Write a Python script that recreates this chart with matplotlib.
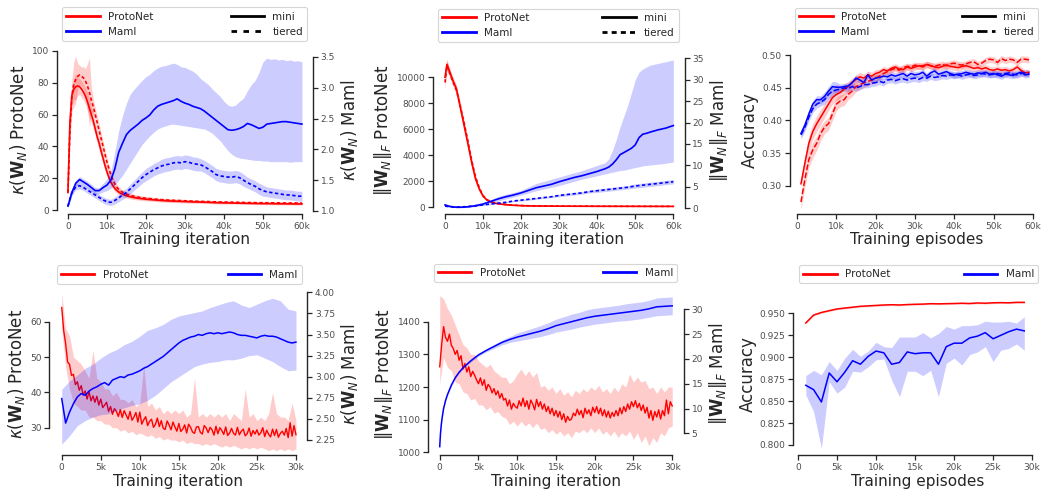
import numpy as np
import matplotlib
matplotlib.use('Agg')
import matplotlib.pyplot as plt
from matplotlib.lines import Line2D

plt.rcParams['font.family'] = 'DejaVu Sans'
plt.rcParams['mathtext.fontset'] = 'dejavusans'

RED = '#ff0000'
BLUE = '#0000ff'
TXT = '0.15'

# %% Top-left: condition number, 60k iterations (x in thousands)
tl_proto_x = [0, 0.5, 1, 1.5, 2, 2.5, 3, 3.5, 4, 4.5, 5, 5.5, 6, 6.5, 7, 7.5, 8, 8.5, 9, 9.5,
              10, 10.5, 11, 11.5, 12, 12.5, 13, 13.5, 14, 14.5, 15, 16, 17, 18, 19, 20,
              22, 24, 26, 28, 30, 32, 34, 36, 38, 40, 42, 44, 46, 48, 50, 52, 54, 56, 58, 60]
tl_proto_mini = [11, 55, 72, 76, 77.5, 78, 77.5, 76, 74, 71.5, 68, 64, 60, 56, 51, 46, 42, 37, 32.5, 28,
                 24, 20.5, 17.5, 15.5, 13.6, 12.3, 11.3, 10.5, 9.9, 9.4, 9.0, 8.3, 7.8, 7.4, 7.1, 6.8,
                 6.4, 6.0, 5.7, 5.5, 5.3, 5.1, 5.0, 4.8, 4.6, 4.5, 4.4, 4.3, 4.2, 4.1, 4.0, 4.0, 3.9, 3.9, 3.8, 3.8]
tl_proto_mini_sd = [1, 6, 6, 7, 8, 6, 5, 5, 5, 5, 6, 6, 5, 5, 4, 4, 4, 3.5, 3.5, 3,
                    3, 2.5, 2.5, 2, 2, 2, 1.8, 1.8, 1.6, 1.6, 1.5, 1.4, 1.3, 1.2, 1.2, 1.1,
                    1.0, 1.0, 1.0, 0.9, 0.9, 0.9, 0.8, 0.8, 0.8, 0.8, 0.7, 0.7, 0.7, 0.7, 0.7, 0.7, 0.7, 0.7, 0.7, 0.7]
tl_proto_tiered = [11, 50, 72, 79, 82, 84, 85, 84, 83, 81, 78, 74, 69, 65, 60, 55, 50, 45, 40, 35,
                   30, 26, 22, 19, 16.5, 14.5, 13, 12, 11.2, 10.6, 10, 9.2, 8.6, 8.1, 7.7, 7.4,
                   6.9, 6.5, 6.2, 6.0, 5.8, 5.6, 5.4, 5.3, 5.1, 5.0, 4.9, 4.8, 4.7, 4.6, 4.6, 4.5, 4.5, 4.4, 4.4, 4.4]
tl_proto_tiered_sd = [1, 8, 10, 14, 15, 8, 6, 6, 7, 8, 14, 22, 8, 5, 4, 4, 4, 3.5, 3.5, 3,
                      3, 2.5, 2.5, 2, 2, 2, 1.8, 1.8, 1.6, 1.6, 1.5, 1.4, 1.3, 1.2, 1.2, 1.1,
                      1.0, 1.0, 1.0, 0.9, 0.9, 0.9, 0.8, 0.8, 0.8, 0.8, 0.7, 0.7, 0.7, 0.7, 0.7, 0.7, 0.7, 0.7, 0.7, 0.7]

tl_maml_x = list(range(0, 61))
tl_maml_mini = [1.08, 1.30, 1.45, 1.51, 1.47, 1.43, 1.38, 1.33, 1.33, 1.38,
                1.42, 1.50, 1.68, 1.95, 2.10, 2.24, 2.31, 2.36, 2.41, 2.47,
                2.51, 2.56, 2.64, 2.70, 2.73, 2.75, 2.77, 2.79, 2.82, 2.78,
                2.75, 2.73, 2.70, 2.68, 2.66, 2.62, 2.57, 2.52, 2.47, 2.42,
                2.37, 2.32, 2.31, 2.32, 2.34, 2.37, 2.42, 2.40, 2.37, 2.34,
                2.36, 2.41, 2.42, 2.43, 2.44, 2.45, 2.45, 2.44, 2.43, 2.42, 2.41]
tl_maml_mini_hi = [1.12, 1.35, 1.50, 1.56, 1.52, 1.48, 1.43, 1.38, 1.38, 1.45,
                   1.52, 1.65, 1.95, 2.30, 2.55, 2.75, 2.90, 2.98, 3.05, 3.12,
                   3.18, 3.22, 3.28, 3.32, 3.35, 3.36, 3.38, 3.40, 3.38, 3.34,
                   3.33, 3.30, 3.27, 3.22, 3.15, 3.10, 3.05, 2.98, 2.92, 2.86,
                   2.78, 2.72, 2.70, 2.72, 2.78, 2.83, 2.95, 3.05, 3.12, 3.25,
                   3.42, 3.48, 3.46, 3.47, 3.45, 3.46, 3.44, 3.45, 3.43, 3.44, 3.42]
tl_maml_mini_lo = [1.05, 1.25, 1.40, 1.46, 1.42, 1.38, 1.33, 1.28, 1.28, 1.31,
                   1.33, 1.37, 1.42, 1.50, 1.58, 1.68, 1.78, 1.88, 1.98, 2.08,
                   2.15, 2.22, 2.28, 2.33, 2.36, 2.38, 2.40, 2.41, 2.40, 2.39,
                   2.38, 2.37, 2.36, 2.35, 2.34, 2.33, 2.30, 2.26, 2.20, 2.14,
                   2.06, 1.98, 1.92, 1.88, 1.86, 1.85, 1.84, 1.83, 1.82, 1.82,
                   1.81, 1.81, 1.80, 1.80, 1.80, 1.80, 1.80, 1.79, 1.80, 1.80, 1.80]
tl_maml_tiered = [1.08, 1.30, 1.39, 1.41, 1.38, 1.34, 1.30, 1.26, 1.22, 1.18,
                  1.15, 1.14, 1.17, 1.21, 1.26, 1.30, 1.36, 1.42, 1.48, 1.54,
                  1.59, 1.63, 1.67, 1.70, 1.73, 1.75, 1.76, 1.78, 1.79, 1.78,
                  1.80, 1.79, 1.77, 1.76, 1.75, 1.72, 1.68, 1.64, 1.59, 1.57,
                  1.56, 1.55, 1.55, 1.56, 1.54, 1.50, 1.46, 1.43, 1.40, 1.36,
                  1.33, 1.31, 1.30, 1.29, 1.28, 1.27, 1.26, 1.26, 1.25, 1.24, 1.24]
tl_maml_tiered_sd = [0.02, 0.04, 0.05, 0.05, 0.05, 0.05, 0.05, 0.05, 0.05, 0.05,
                     0.05, 0.05, 0.06, 0.06, 0.07, 0.07, 0.08, 0.08, 0.09, 0.09,
                     0.10, 0.10, 0.10, 0.10, 0.11, 0.11, 0.11, 0.11, 0.11, 0.11,
                     0.11, 0.11, 0.11, 0.11, 0.10, 0.10, 0.10, 0.10, 0.10, 0.10,
                     0.10, 0.10, 0.10, 0.10, 0.10, 0.10, 0.09, 0.09, 0.09, 0.09,
                     0.09, 0.08, 0.08, 0.08, 0.08, 0.08, 0.08, 0.08, 0.08, 0.08, 0.08]

# %% Top-middle: Frobenius norm, 60k iterations
tm_proto_x = [0, 0.5, 1, 2, 3, 4, 5, 6, 7, 8, 9, 10, 11, 12, 13, 14, 15, 16, 17, 18, 19, 20,
              22, 24, 26, 28, 30, 32, 34, 36, 38, 40, 42, 44, 46, 48, 50, 52, 54, 56, 58, 60]
tm_proto_mini = [10000, 11000, 10600, 9800, 9100, 7700, 6300, 4900, 3450, 2200, 1400, 850,
                 560, 420, 330, 270, 230, 200, 175, 155, 140, 125,
                 110, 100, 95, 90, 88, 85, 83, 81, 80, 78, 77, 76, 75, 74, 73, 72, 71, 70, 70, 69]
tm_proto_tiered = [9600, 10900, 10500, 9700, 9000, 7800, 6500, 5100, 3600, 2350, 1500, 900,
                   590, 440, 350, 290, 250, 215, 185, 165, 150, 135,
                   118, 108, 100, 95, 92, 89, 86, 84, 82, 80, 79, 78, 77, 76, 75, 74, 73, 72, 72, 71]
tm_proto_sd = [600, 400, 300, 300, 300, 280, 260, 240, 200, 160, 120, 90,
               60, 45, 35, 30, 25, 22, 20, 18, 16, 15,
               14, 13, 12, 12, 11, 11, 10, 10, 10, 10, 10, 10, 10, 10, 10, 10, 10, 10, 10, 10]

tm_maml_x = [0, 1, 2, 3, 4, 6, 8, 10, 12, 14, 16, 18, 20, 22, 24, 26, 28, 30, 32, 34, 36, 38, 40, 42,
             43, 44, 45, 46, 47, 48, 49, 50, 51, 52, 53, 54, 56, 58, 60]
tm_maml_mini = [0.8, 0.5, 0.35, 0.25, 0.25, 0.35, 0.6, 1.0, 1.6, 2.2, 2.7, 3.1, 3.6, 4.2, 4.8, 5.2,
                5.6, 6.2, 6.7, 7.2, 7.6, 8.1, 8.6, 9.2,
                9.6, 10.3, 11.3, 12.5, 13.0, 13.5, 14.0, 14.8, 16.5, 17.3, 17.5, 17.8, 18.3, 18.7, 19.3]
tm_maml_mini_hi = [1.0, 0.7, 0.5, 0.4, 0.4, 0.5, 0.8, 1.3, 2.0, 2.8, 3.3, 3.7, 4.2, 5.0, 5.8, 6.3,
                   6.8, 7.3, 7.8, 8.3, 8.8, 9.4, 10.0, 10.6,
                   11.5, 13.5, 16.0, 19.0, 21.5, 24.0, 27.0, 30.0, 31.8, 32.5, 33.0, 33.4, 33.8, 34.2, 34.6]
tm_maml_mini_lo = [0.6, 0.3, 0.2, 0.1, 0.1, 0.2, 0.4, 0.8, 1.3, 1.7, 2.2, 2.6, 3.1, 3.6, 4.1, 4.5,
                   4.9, 5.3, 5.8, 6.3, 6.8, 7.2, 7.6, 8.0,
                   8.2, 8.4, 8.6, 8.8, 8.9, 9.1, 9.3, 9.5, 9.7, 9.9, 10.0, 10.1, 10.3, 10.5, 10.8]
tm_maml_tiered_x = list(range(0, 61, 2))
tm_maml_tiered = [0.5, 0.3, 0.3, 0.4, 0.6, 0.8, 1.0, 1.2, 1.4, 1.7, 1.9, 2.1, 2.3, 2.5, 2.7, 3.0,
                  3.2, 3.4, 3.6, 3.9, 4.1, 4.3, 4.5, 4.7, 4.9, 5.2, 5.4, 5.6, 5.8, 6.0, 6.2]
tm_maml_tiered_sd = [0.1, 0.1, 0.1, 0.1, 0.1, 0.15, 0.15, 0.15, 0.15, 0.15, 0.2, 0.2, 0.2, 0.2, 0.2,
                     0.3, 0.3, 0.3, 0.3, 0.3, 0.4, 0.4, 0.4, 0.4, 0.4, 0.5, 0.5, 0.5, 0.5, 0.5, 0.5]

# %% Top-right: accuracy, 60k episodes
tr_x = list(range(1, 60))
tr_proto_mini = [.303, .335, .365, .383, .395, .405, .415, .425, .435, .440,
                 .443, .448, .452, .458, .463, .467, .465, .470, .468, .472,
                 .474, .478, .476, .480, .482, .479, .478, .482, .480, .482,
                 .484, .482, .486, .484, .482, .481, .483, .485, .483, .482,
                 .481, .483, .484, .482, .480, .481, .479, .481, .478, .477,
                 .479, .477, .478, .476, .478, .482, .477, .473, .474]
tr_proto_tiered = [.275, .310, .340, .355, .365, .380, .390, .395, .410, .425,
                   .430, .432, .440, .445, .452, .455, .458, .460, .462, .465,
                   .468, .472, .475, .478, .480, .477, .481, .483, .482, .485,
                   .483, .484, .486, .484, .483, .485, .486, .484, .487, .488,
                   .486, .485, .487, .489, .490, .486, .488, .492, .494, .493,
                   .489, .495, .492, .494, .493, .489, .494, .494, .493]
tr_maml_mini = [.380, .393, .410, .425, .432, .432, .437, .445, .452, .451,
                .451, .452, .453, .458, .465, .462, .458, .470, .462, .465,
                .466, .468, .467, .470, .468, .470, .472, .468, .472, .470,
                .471, .474, .468, .473, .476, .471, .473, .475, .472, .470,
                .471, .472, .474, .472, .471, .473, .472, .474, .471, .472,
                .470, .468, .471, .470, .469, .472, .474, .470, .471]
tr_maml_tiered = [.378, .390, .405, .418, .425, .428, .432, .440, .445, .447,
                  .448, .450, .449, .452, .450, .452, .455, .455, .457, .458,
                  .460, .458, .462, .463, .461, .463, .464, .462, .464, .465,
                  .463, .466, .465, .468, .466, .467, .469, .468, .470, .469,
                  .470, .468, .470, .471, .469, .470, .472, .471, .470, .471,
                  .472, .471, .472, .473, .471, .470, .472, .473, .472]
tr_proto_mini_sd = [0.006, 0.010, 0.012, 0.012, 0.012, 0.012, 0.011, 0.010, 0.010, 0.009,
                    0.008, 0.008, 0.008, 0.007, 0.007, 0.007, 0.006, 0.006, 0.006, 0.006] + [0.005] * 39
tr_proto_tiered_sd = [0.012, 0.012, 0.012, 0.012, 0.011, 0.011, 0.010, 0.010, 0.010, 0.010,
                      0.009, 0.009, 0.008, 0.008, 0.008, 0.007, 0.007, 0.007, 0.006, 0.006] + [0.005] * 39
tr_maml_sd = [0.006, 0.006, 0.006, 0.006, 0.006, 0.006, 0.007, 0.007, 0.008, 0.008] + [0.005] * 49

# %% Bottom-left: condition number, 30k iterations
bl_proto_x = np.arange(0, 30.01, 0.25)
bl_proto = [64.0, 57.5, 53.8, 48.6, 47.9, 44.8, 45.1, 42.2, 43.0, 40.6,
            41.9, 39.2, 40.4, 38.1, 40.2, 37.6, 39.0, 37.2, 38.9, 36.4,
            38.1, 35.7, 36.4, 37.2, 34.6, 36.0, 33.8, 35.4, 34.6, 33.2,
            35.1, 32.9, 34.8, 33.6, 32.4, 34.6, 32.1, 33.0, 34.3, 31.6,
            34.4, 31.0, 32.2, 33.1, 30.6, 31.8, 32.4, 30.1, 30.9, 32.7,
            30.3, 32.0, 29.8, 29.5, 31.9, 30.8, 29.4, 31.6, 30.2, 29.0,
            31.2, 28.9, 29.6, 30.8, 28.5, 31.0, 30.1, 28.8, 28.4, 30.2,
            30.3, 28.7, 28.2, 30.6, 29.9, 28.6, 30.1, 29.4, 27.9, 30.4,
            28.3, 30.0, 29.2, 28.1, 30.2, 27.8, 28.5, 29.8, 28.4, 27.9,
            30.1, 28.0, 29.0, 29.6, 27.7, 28.3, 29.9, 27.6, 29.2, 28.2,
            29.4, 27.9, 28.6, 30.0, 27.5, 29.3, 28.1, 27.4, 29.6, 27.8,
            29.5, 27.3, 28.4, 29.0, 27.9, 29.8, 27.2, 31.4, 27.6, 30.6,
            28.0]
bl_band_x = np.arange(0, 30.01, 0.5)
bl_proto_hi = [68, 58, 56, 50, 49, 48, 46, 44, 52, 44,
               43, 41, 41, 39, 40, 38, 38, 37, 38, 36,
               37, 48, 36, 37, 35, 36, 34, 35, 34, 35,
               34, 35, 33, 34, 44, 33, 34, 33, 34, 33,
               34, 33, 34, 32, 34, 33, 32, 41, 33, 34,
               32, 33, 32, 34, 40, 34, 33, 33, 32, 37, 32]
bl_proto_lo = [58, 47, 41, 37, 36, 35, 35, 33, 33, 32,
               32, 31, 31, 30, 30, 29, 29.5, 28.5, 29, 28,
               28.5, 28, 27.5, 28, 27, 27.5, 26.5, 27, 26.5, 26.5,
               26, 26.5, 25.5, 26, 25.5, 25.5, 25, 25.5, 25, 25.5,
               25, 24.5, 25, 24.5, 25, 24.5, 24, 24.5, 24, 24.5,
               24, 24.5, 24, 23.5, 24, 23.5, 24, 23.5, 24, 23.5, 24]
bl_maml = [2.74, 2.45, 2.58, 2.68, 2.76, 2.80, 2.78, 2.83, 2.86, 2.88,
           2.91, 2.93, 2.90, 2.96, 2.98, 3.00, 2.99, 3.02, 3.03, 3.05,
           3.07, 3.10, 3.12, 3.15, 3.18, 3.21, 3.24, 3.28, 3.32, 3.36,
           3.40, 3.43, 3.45, 3.47, 3.48, 3.50, 3.49, 3.51, 3.52, 3.51,
           3.52, 3.51, 3.52, 3.53, 3.52, 3.50, 3.49, 3.49, 3.48, 3.47,
           3.46, 3.48, 3.49, 3.48, 3.48, 3.47, 3.45, 3.43, 3.41, 3.40, 3.41]
bl_maml_band_x = list(range(0, 31))
bl_maml_hi = [2.85, 2.95, 3.02, 3.10, 3.15, 3.22, 3.28, 3.32, 3.38, 3.42,
              3.48, 3.55, 3.58, 3.62, 3.68, 3.72, 3.74, 3.76, 3.78, 3.82,
              3.85, 3.88, 3.90, 3.85, 3.82, 3.86, 3.90, 3.93, 3.90, 3.80, 3.78]
bl_maml_lo = [2.20, 2.30, 2.42, 2.48, 2.52, 2.55, 2.56, 2.60, 2.63, 2.66,
              2.68, 2.72, 2.78, 2.86, 2.94, 3.00, 3.06, 3.12, 3.15, 3.17,
              3.18, 3.20, 3.20, 3.22, 3.25, 3.26, 3.22, 3.18, 3.12, 3.07, 3.08]

# %% Bottom-middle: Frobenius norm, 30k iterations
bm_proto_x = np.arange(0, 30.01, 0.25)
bm_proto = [1262, 1330, 1385, 1352, 1340, 1362, 1328, 1318, 1300, 1312,
            1282, 1296, 1255, 1272, 1246, 1262, 1232, 1248, 1236, 1222,
            1210, 1228, 1205, 1222, 1190, 1208, 1200, 1182, 1195, 1176,
            1188, 1166, 1180, 1160, 1165, 1142, 1160, 1132, 1150, 1140,
            1135, 1158, 1142, 1166, 1140, 1158, 1132, 1160, 1148, 1130,
            1162, 1140, 1155, 1132, 1148, 1125, 1140, 1118, 1135, 1112,
            1128, 1108, 1125, 1100, 1118, 1092, 1110, 1098, 1102, 1120,
            1112, 1132, 1115, 1128, 1106, 1135, 1118, 1130, 1112, 1138,
            1122, 1140, 1118, 1135, 1112, 1130, 1108, 1126, 1105, 1122,
            1110, 1128, 1112, 1136, 1118, 1140, 1125, 1148, 1132, 1155,
            1140, 1158, 1136, 1150, 1128, 1145, 1120, 1138, 1105, 1128,
            1098, 1125, 1108, 1130, 1102, 1128, 1112, 1160, 1118, 1155,
            1142]
bm_band_x = np.arange(0, 30.01, 0.5)
bm_proto_hi = [1480, 1470, 1440, 1420, 1390, 1360, 1330, 1320, 1300, 1300,
               1280, 1270, 1260, 1270, 1250, 1240, 1230, 1230, 1210, 1220,
               1240, 1255, 1235, 1250, 1230, 1245, 1200, 1205, 1190, 1200,
               1180, 1195, 1175, 1185, 1170, 1190, 1180, 1195, 1185, 1200,
               1190, 1205, 1185, 1195, 1180, 1200, 1185, 1210, 1200, 1240,
               1215, 1230, 1215, 1220, 1195, 1200, 1180, 1200, 1185, 1200, 1200]
bm_proto_lo = [1210, 1290, 1260, 1250, 1215, 1210, 1185, 1180, 1160, 1165,
               1145, 1145, 1130, 1140, 1120, 1125, 1110, 1105, 1085, 1095,
               1080, 1095, 1080, 1090, 1075, 1090, 1070, 1075, 1060, 1070,
               1055, 1065, 1050, 1060, 1045, 1065, 1060, 1070, 1060, 1075,
               1060, 1075, 1055, 1065, 1050, 1065, 1045, 1060, 1050, 1065,
               1040, 1060, 1030, 1050, 1020, 1045, 1030, 1060, 1050, 1075, 1080]
bm_maml_x = [0, 0.1, 0.2, 0.3, 0.5, 0.75, 1, 1.5, 2, 2.5, 3, 4, 5, 6, 7, 8, 9, 10, 11, 12,
             13, 14, 15, 16, 17, 18, 19, 20, 21, 22, 23, 24, 25, 26, 27, 28, 29, 30]
bm_maml = [2.3, 5.0, 6.7, 8.0, 10.0, 11.6, 12.8, 14.7, 16.2, 17.3, 18.2, 19.6, 20.8, 21.7, 22.5,
           23.3, 23.9, 24.4, 24.8, 25.2, 25.6, 26.1, 26.7, 27.1, 27.5, 27.9, 28.3, 28.6, 28.8,
           29.0, 29.2, 29.4, 29.6, 29.8, 30.1, 30.5, 30.6, 30.7]
bm_maml_sd = [0.1, 0.1, 0.1, 0.1, 0.15, 0.15, 0.2, 0.2, 0.2, 0.2, 0.2, 0.25, 0.3, 0.3, 0.4,
              0.5, 0.6, 0.8, 0.9, 1.0, 1.1, 1.2, 1.3, 1.4, 1.5, 1.5, 1.6, 1.6, 1.6,
              1.6, 1.6, 1.7, 1.7, 1.7, 1.7, 1.8, 1.8, 1.8]

# %% Bottom-right: accuracy, 30k episodes
br_x = list(range(1, 30))
br_proto = [.939, .948, .951, .953, .955, .956, .957, .958, .9585, .959,
            .9595, .9598, .9595, .960, .9603, .9605, .961, .9608, .961, .9612,
            .9615, .9612, .9618, .9615, .962, .9622, .962, .9625, .9625]
br_maml = [.868, .863, .849, .882, .872, .883, .896, .892, .901, .907,
           .905, .892, .894, .906, .904, .905, .905, .892, .912, .916,
           .916, .922, .924, .928, .921, .925, .929, .932, .930]
br_maml_hi = [.879, .885, .880, .895, .885, .899, .909, .901, .907, .917,
              .912, .911, .923, .923, .923, .928, .922, .927, .935, .932,
              .936, .936, .937, .941, .940, .940, .941, .939, .946]
br_maml_lo = [.857, .838, .796, .872, .859, .866, .884, .883, .889, .897,
              .898, .874, .855, .884, .884, .879, .885, .855, .893, .899,
              .891, .903, .906, .912, .895, .908, .910, .915, .908]

ticks60 = [0, 10, 20, 30, 40, 50, 60]
labels60 = ['0', '10k', '20k', '30k', '40k', '50k', '60k']
ticks30 = [0, 5, 10, 15, 20, 25, 30]
labels30 = ['0', '5k', '10k', '15k', '20k', '25k', '30k']


# %% helpers
def style(ax, xlim, ylim, xticks, xlabels, yticks, xlabel, ylabel):
    ax.set_xlim(xlim)
    ax.set_ylim(ylim)
    ax.set_xticks(xticks)
    ax.set_xticklabels(xlabels)
    ax.set_yticks(yticks)
    for s in ['top', 'right']:
        ax.spines[s].set_visible(False)
    ax.spines['bottom'].set_bounds(xticks[0], xticks[-1])
    ax.spines['left'].set_bounds(yticks[0], yticks[-1])
    for s in ['bottom', 'left']:
        ax.spines[s].set_color(TXT)
        ax.spines[s].set_linewidth(1.0)
    ax.tick_params(labelsize=6.5, length=3.5, width=0.9, pad=2, colors=TXT, labelcolor='0.3')
    ax.set_xlabel(xlabel, fontsize=11, color=TXT, labelpad=1)
    ax.set_ylabel(ylabel, fontsize=12, color=TXT, labelpad=2)


def style_twin(ax2, ylim, yticks, ylabel):
    ax2.set_ylim(ylim)
    ax2.set_yticks(yticks)
    for s in ['top', 'left', 'bottom']:
        ax2.spines[s].set_visible(False)
    ax2.spines['right'].set_bounds(yticks[0], yticks[-1])
    ax2.spines['right'].set_color(TXT)
    ax2.spines['right'].set_linewidth(1.0)
    ax2.tick_params(labelsize=6.5, length=3.5, width=0.9, pad=2, colors=TXT, labelcolor='0.3')
    ax2.set_ylabel(ylabel, fontsize=12, color=TXT, labelpad=3)


def band(ax, x, lo, hi, color):
    ax.fill_between(x, lo, hi, color=color, alpha=0.2, linewidth=0)


def legend(ax, handles, bbox):
    leg = ax.legend(handles=handles, loc='lower left', bbox_to_anchor=bbox, mode='expand',
                    ncol=2, fontsize=7.5, handlelength=3.2, borderaxespad=0, frameon=True)
    leg.get_frame().set_edgecolor('0.8')
    leg.get_frame().set_linewidth(0.8)
    for t in leg.get_texts():
        t.set_color(TXT)


def top_handles(dash):
    return [Line2D([], [], color=RED, lw=2, label='ProtoNet'),
            Line2D([], [], color=BLUE, lw=2, label='Maml'),
            Line2D([], [], color='k', lw=2, label='mini'),
            Line2D([], [], color='k', lw=2, linestyle=dash, label='tiered')]


bottom_handles = [Line2D([], [], color=RED, lw=2, label='ProtoNet'),
                  Line2D([], [], color=BLUE, lw=2, label='Maml')]

DOT = (0, (2, 1.5))
LW = 1.2

fig = plt.figure(figsize=(10.47, 4.95), dpi=100)

# %% Top-left
ax = fig.add_axes([0.0544, 0.5677, 0.2445, 0.3384])
m = np.array(tl_proto_mini); s = np.array(tl_proto_mini_sd)
band(ax, tl_proto_x, m - s, m + s, RED)
m2 = np.array(tl_proto_tiered); s2 = np.array(tl_proto_tiered_sd)
band(ax, tl_proto_x, m2 - s2, m2 + s2, RED)
ax.plot(tl_proto_x, tl_proto_mini, color=RED, lw=LW)
ax.plot(tl_proto_x, tl_proto_tiered, color=RED, lw=LW, linestyle=DOT)
style(ax, (-2.82, 62.82), (-2.5, 102.8), ticks60, labels60, [0, 20, 40, 60, 80, 100],
      'Training iteration', r'$\kappa(\mathbf{W}_N)$ ProtoNet')
ax2 = ax.twinx()
band(ax2, tl_maml_x, tl_maml_mini_lo, tl_maml_mini_hi, BLUE)
mt = np.array(tl_maml_tiered); st = np.array(tl_maml_tiered_sd)
band(ax2, tl_maml_x, mt - st, mt + st, BLUE)
ax2.plot(tl_maml_x, tl_maml_mini, color=BLUE, lw=LW)
ax2.plot(tl_maml_x, tl_maml_tiered, color=BLUE, lw=LW, linestyle=DOT)
style_twin(ax2, (0.951, 3.670), [1.0, 1.5, 2.0, 2.5, 3.0, 3.5], r'$\kappa(\mathbf{W}_N)$ Maml')
legend(ax2, top_handles((0, (2, 2.3))), (0.02, 1.033, 0.957, 0.1))

# %% Top-middle
ax = fig.add_axes([0.4136, 0.5677, 0.2404, 0.3384])
m = np.array(tm_proto_mini); m2 = np.array(tm_proto_tiered); s = np.array(tm_proto_sd)
band(ax, tm_proto_x, m - s, m + s, RED)
band(ax, tm_proto_x, m2 - s, m2 + s, RED)
ax.plot(tm_proto_x, tm_proto_mini, color=RED, lw=LW)
ax.plot(tm_proto_x, tm_proto_tiered, color=RED, lw=LW, linestyle=DOT)
style(ax, (-3.15, 63.0), (-515, 12369), ticks60, labels60, [0, 2000, 4000, 6000, 8000, 10000],
      'Training iteration', r'$\|\mathbf{W}_N\|_F$ ProtoNet')
ax2 = ax.twinx()
band(ax2, tm_maml_x, tm_maml_mini_lo, tm_maml_mini_hi, BLUE)
mt = np.array(tm_maml_tiered); st = np.array(tm_maml_tiered_sd)
band(ax2, tm_maml_tiered_x, mt - st, mt + st, BLUE)
ax2.plot(tm_maml_x, tm_maml_mini, color=BLUE, lw=LW)
ax2.plot(tm_maml_tiered_x, tm_maml_tiered, color=BLUE, lw=LW, linestyle=DOT)
style_twin(ax2, (-1.33, 37.75), [0, 5, 10, 15, 20, 25, 30, 35], r'$\|\mathbf{W}_N\|_F$ Maml')
legend(ax2, top_handles((0, (1.8, 1.5))), (0.02, 1.026, 0.957, 0.1))

# %% Top-right
ax = fig.add_axes([0.7541, 0.5677, 0.2426, 0.3384])
for mean, sd, color, ls in [(tr_proto_mini, tr_proto_mini_sd, RED, '-'),
                            (tr_proto_tiered, tr_proto_tiered_sd, RED, '--'),
                            (tr_maml_mini, tr_maml_sd, BLUE, '-'),
                            (tr_maml_tiered, tr_maml_sd, BLUE, '--')]:
    mm = np.array(mean); ss = np.array(sd)
    band(ax, tr_x, mm - ss, mm + ss, color)
    ax.plot(tr_x, mean, color=color, lw=1.1, linestyle=ls)
style(ax, (-1.91, 62.72), (0.2566, 0.5135), ticks60, labels60, [0.30, 0.35, 0.40, 0.45, 0.50],
      'Training episodes', 'Accuracy')
legend(ax, top_handles('--'), (0.0217, 1.032, 0.957, 0.1))

# %% Bottom-left
ax = fig.add_axes([0.0471, 0.0798, 0.2464, 0.3303])
band(ax, bl_band_x, bl_proto_lo, bl_proto_hi, RED)
ax.plot(bl_proto_x, bl_proto, color=RED, lw=1.0)
style(ax, (-1.59, 31.45), (22.13, 68.4), ticks30, labels30, [30, 40, 50, 60],
      'Training iteration', r'$\kappa(\mathbf{W}_N)$ ProtoNet')
ax2 = ax.twinx()
band(ax2, bl_maml_band_x, bl_maml_lo, bl_maml_hi, BLUE)
ax2.plot(bl_band_x, bl_maml, color=BLUE, lw=1.1)
style_twin(ax2, (2.066, 4.004), [2.25, 2.50, 2.75, 3.00, 3.25, 3.50, 3.75, 4.00],
           r'$\kappa(\mathbf{W}_N)$ Maml')
legend(ax2, bottom_handles, (0.029, 1.05, 0.95, 0.1))

# %% Bottom-middle
ax = fig.add_axes([0.4091, 0.0798, 0.2442, 0.3303])
band(ax, bm_band_x, bm_proto_lo, bm_proto_hi, RED)
ax.plot(bm_proto_x, bm_proto, color=RED, lw=1.0)
style(ax, (-1.47, 31.52), (990.2, 1491), ticks30, labels30, [1000, 1100, 1200, 1300, 1400],
      'Training iteration', r'$\|\mathbf{W}_N\|_F$ ProtoNet')
ax2 = ax.twinx()
mb = np.array(bm_maml); sb = np.array(bm_maml_sd)
band(ax2, bm_maml_x, mb - sb, mb + sb, BLUE)
ax2.plot(bm_maml_x, bm_maml, color=BLUE, lw=1.1)
style_twin(ax2, (0.524, 33.49), [5, 10, 15, 20, 25, 30], r'$\|\mathbf{W}_N\|_F$ Maml')
legend(ax2, bottom_handles, (0.022, 1.06, 0.951, 0.1))

# %% Bottom-right
ax = fig.add_axes([0.7574, 0.0798, 0.2388, 0.3303])
rp = np.array(br_proto)
band(ax, br_x, rp - 0.001, rp + 0.001, RED)
ax.plot(br_x, br_proto, color=RED, lw=1.1)
band(ax, br_x, br_maml_lo, br_maml_hi, BLUE)
ax.plot(br_x, br_maml, color=BLUE, lw=1.1)
style(ax, (-0.64, 31.4), (0.788, 0.9743), ticks30, labels30,
      [0.800, 0.825, 0.850, 0.875, 0.900, 0.925, 0.950], 'Training episodes', 'Accuracy')
legend(ax, bottom_handles, (0.025, 1.052, 0.956, 0.1))

plt.savefig('out.png', dpi=100)
plt.close('all')
